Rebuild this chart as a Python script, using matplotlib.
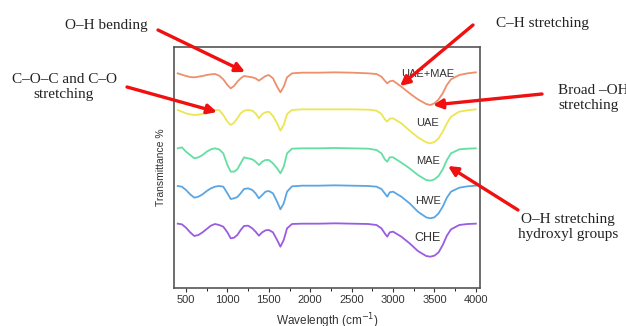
import matplotlib
matplotlib.use("Agg")
import matplotlib.pyplot as plt
from matplotlib.ticker import MultipleLocator

# wavenumber grid (cm-1)
wavenumber = [400, 450, 500, 550, 600, 650, 700, 750, 800, 850,
              900, 950, 1000, 1040, 1080, 1120, 1160, 1200, 1250, 1300,
              1340, 1380, 1420, 1460, 1500, 1550, 1600, 1640, 1680, 1720,
              1780, 1900, 2100, 2300, 2500, 2700, 2800, 2860, 2900, 2930,
              2960, 3000, 3100, 3200, 3300, 3400, 3450, 3500, 3550, 3600,
              3650, 3700, 3800, 3900, 4000]

# relative transmittance of each extract (0 = baseline, negative = band)
t_uae_mae = [-2, -6, -10, -13, -14, -12, -10, -7, -5, -4,
             -9, -20, -37, -47, -40, -27, -17, -10, -12, -14,
             -17, -24, -17, -10, -7, -17, -42, -59, -42, -14,
             -2, 0, 0, 1, 0, -2, -4, -12, -24, -32,
             -26, -24, -42, -62, -80, -94, -97, -92, -80, -62,
             -37, -20, -7, -2, 1]
t_uae = [-2, -7, -12, -15, -17, -16, -14, -10, -7, -2,
         -2, -17, -37, -47, -40, -27, -12, -4, -2, -4,
         -12, -27, -14, -9, -7, -20, -42, -64, -47, -14,
         -2, 0, 0, 0, 0, -1, -4, -14, -30, -37,
         -28, -27, -42, -64, -84, -99, -102, -98, -87, -67,
         -42, -22, -7, -3, 0]
t_mae = [0, 3, -10, -20, -30, -27, -20, -10, -3, 0,
         -3, -15, -50, -70, -70, -63, -45, -27, -30, -33,
         -40, -50, -40, -35, -35, -45, -60, -75, -55, -15,
         -1, 0, 0, 1, 0, -1, -5, -15, -33, -40,
         -27, -27, -43, -60, -80, -95, -97, -93, -83, -63,
         -35, -15, -3, -1, 0]
t_hwe = [-1, -3, -13, -26, -36, -33, -26, -16, -8, -3,
         -1, -3, -23, -40, -38, -34, -23, -10, -8, -13,
         -23, -38, -28, -18, -16, -23, -48, -71, -53, -18,
         -2, 0, 0, 1, 0, -1, -3, -10, -23, -33,
         -20, -18, -33, -53, -78, -95, -98, -95, -83, -63,
         -36, -18, -6, -2, 0]
t_che = [0, -2, -12, -26, -37, -34, -26, -16, -6, -1,
         -4, -9, -26, -44, -42, -34, -19, -7, -6, -14,
         -24, -36, -26, -20, -19, -26, -49, -69, -49, -14,
         -1, 0, 0, 1, 0, -1, -4, -14, -29, -39,
         -26, -24, -39, -59, -82, -97, -99, -96, -86, -64,
         -36, -17, -4, -1, 0]

labels = ["UAE+MAE", "UAE", "MAE", "HWE", "CHE"]
spectra = [t_uae_mae, t_uae, t_mae, t_hwe, t_che]

# styling / stacking
colors = ["#EE8F6C", "#ECE653", "#63DFA3", "#5AA6E4", "#9A5CE0"]
offsets = [646, 536, 419, 307, 193]
label_y = [642, 495, 381, 261, 150]
label_size = [8, 8, 8, 8, 9]

W, H = 626, 326
fig = plt.figure(figsize=(W / 100, H / 100), dpi=100)
ax = fig.add_axes([174 / W, (H - 288) / H, 306 / W, 241 / H])

for spec, off, col in zip(spectra, offsets, colors):
    ax.plot(wavenumber, [off + v for v in spec], color=col, lw=1.3)

for lab, ly, fs in zip(labels, label_y, label_size):
    ax.text(3420, ly, lab, ha="center", va="center", fontsize=fs,
            color="#333333", family="Liberation Sans")

ax.set_xlim(355, 4050)
ax.set_ylim(0, 723)
ax.set_yticks([])
ax.xaxis.set_major_locator(MultipleLocator(500))
ax.xaxis.set_minor_locator(MultipleLocator(250))
ax.tick_params(axis="x", direction="out", length=3, width=0.8,
               labelsize=8, colors="#333333", pad=2)
ax.tick_params(axis="x", which="minor", length=2, width=0.6)
for lbl in ax.get_xticklabels():
    lbl.set_family("Liberation Sans")
for sp in ax.spines.values():
    sp.set_color("#555555")
    sp.set_linewidth(1.2)

ax.set_xlabel("Wavelength (cm$^{-1}$)", fontsize=8.5, color="#333333",
              family="Liberation Sans", labelpad=5)
ax.set_ylabel("Transmittance %", fontsize=7.5, color="#333333",
              family="Liberation Sans", labelpad=6)


def px(x, y):
    return (x / W, 1 - y / H)


def callout(text, txt_xy, start, tip, ha="center"):
    fig.text(*px(*txt_xy), text, ha=ha, va="center", fontsize=11,
             family="Liberation Serif", color="#222222", linespacing=1.15)
    ax.annotate("", xy=px(*tip), xytext=px(*start),
                xycoords="figure fraction", textcoords="figure fraction",
                arrowprops=dict(arrowstyle="-|>", color="#F01010", lw=2.4,
                                mutation_scale=14, shrinkA=0, shrinkB=0),
                annotation_clip=False)


callout("O–H bending", (106, 25), (158, 30), (245, 72))
callout("C–O–C and C–O\nstretching", (64, 87), (127, 87), (217, 112))
callout("C–H stretching", (542, 24), (473, 25), (400, 86))
callout("Broad –OH\nstretching", (558, 98), (542, 94), (433, 105), ha="left")
callout("O–H stretching\nhydroxyl groups", (568, 227), (518, 210), (448, 166))

fig.savefig("out.png", dpi=100)
